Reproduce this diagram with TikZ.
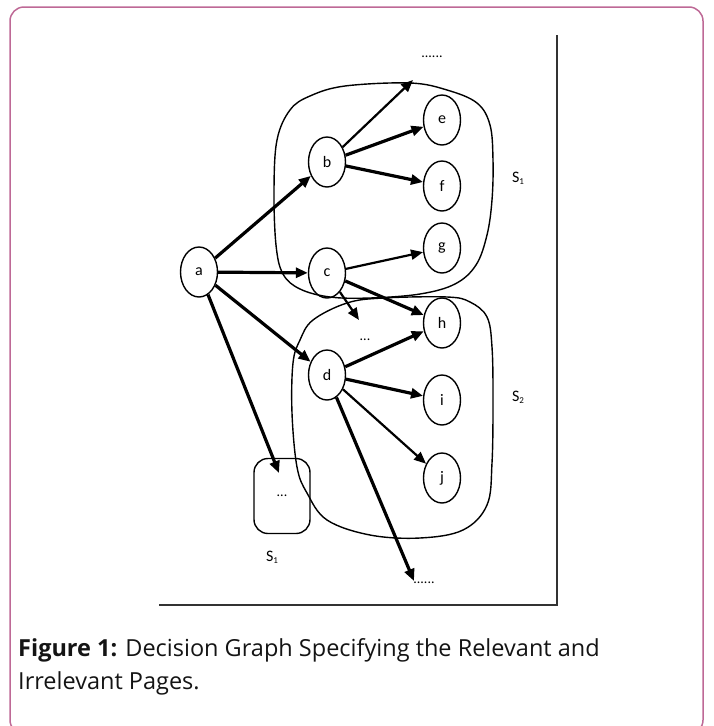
\documentclass[tikz,border=0pt]{standalone}
\usepackage{fontspec}
\setmainfont{Open Sans}
\newfontfamily\lbl{Carlito}
\usetikzlibrary{shapes.geometric,arrows.meta}
\definecolor{framec}{RGB}{190,105,150}
\definecolor{capc}{RGB}{20,20,20}
\begin{document}
\begin{tikzpicture}[x=1pt,y=-1pt,
  vert/.style={draw,ellipse,line width=1.4pt,minimum width=37pt,minimum height=50pt,inner sep=0pt,font=\lbl\fontsize{16}{16}\selectfont},
  thk/.style={line width=3.2pt,-{Triangle[length=12pt,width=10pt]}},
  med/.style={line width=2.2pt,-{Triangle[length=12pt,width=10pt]}},
  blob/.style={line width=1.4pt},
  lab/.style={font=\lbl\fontsize{16}{16}\selectfont,inner sep=0pt},
  dots/.style={font=\lbl\fontsize{14}{14}\selectfont,inner sep=1pt}]
\useasboundingbox (0,0) rectangle (713,726);
% outer frame
\draw[framec,line width=1.5pt,rounded corners=14pt] (10,7) rectangle (703,734);
% axes lines
\draw[line width=2pt,black!80] (557,35) -- (557,605) -- (159,605);
% blobs
\draw[blob] plot[smooth cycle,tension=0.6] coordinates {
  (410,83) (447,90) (477,103) (490,125) (493,160) (492,200) (487,235)
  (476,265) (455,284) (420,294) (370,298) (330,297) (300,289) (283,274)
  (276,245) (274,190) (277,140) (290,110) (310,96) (345,86)};
\draw[blob] plot[smooth cycle,tension=0.6] coordinates {
  (383,298) (447,297) (470,302) (487,317) (492,347) (493,400) (492,463)
  (487,505) (463,530) (420,538) (370,535) (327,520) (307,493) (297,467)
  (292,413) (293,363) (300,340) (313,320) (347,303)};
% nodes
\node[vert] (a) at (199,272) {a};
\node[vert] (b) at (327,162) {b};
\node[vert] (c) at (327,273) {c};
\node[vert] (d) at (327,375) {d};
\node[vert] (e) at (442,120) {e};
\node[vert] (f) at (442,186) {f};
\node[vert] (g) at (442,248) {g};
\node[vert] (h) at (442,323) {h};
\node[vert] (i) at (442,400) {i};
\node[vert] (j) at (442,478) {j};
\node[draw,line width=1.4pt,rounded corners=14pt,minimum width=56pt,minimum height=75pt,inner sep=0pt,dots] (box) at (282,496) {...};
\node[dots] (topdots) at (432,57) {......};
\node[dots] (middots) at (365,340) {...};
\node[dots] (botdots) at (424,583) {......};
% labels
\node[lab] (s1) at (518,178) {S\raisebox{-2pt}{\fontsize{9}{9}\selectfont 1}};
\node[lab] (s2) at (518,397) {S\raisebox{-2pt}{\fontsize{9}{9}\selectfont 2}};
\node[lab] (s3) at (272,557) {S\raisebox{-2pt}{\fontsize{9}{9}\selectfont 1}};
% connector end points
\coordinate (t1) at (413,80);
\coordinate (m1) at (359,320);
\coordinate (b1) at (414,581);
\coordinate (x1) at (279,473);
% arrows
\draw[thk] (a) -- (b);
\draw[thk] (a) -- (c);
\draw[thk] (a) -- (d);
\draw[thk] (a) -- (x1);
\draw[med] (b) -- (t1);
\draw[thk] (b) -- (e);
\draw[thk] (b) -- (f);
\draw[med] (c) -- (g);
\draw[thk] (c) -- (h);
\draw[med] (c) -- (m1);
\draw[thk] (d) -- (h);
\draw[thk] (d) -- (i);
\draw[med] (d) -- (j);
\draw[thk] (d) -- (b1);
% caption
\node[anchor=base west,inner sep=0pt,text=capc,font=\fontsize{23.5}{33}\selectfont] (cap1) at (18,656) {\textbf{Figure 1:} Decision Graph Specifying the Relevant and};
\node[anchor=base west,inner sep=0pt,text=capc,font=\fontsize{23.5}{33}\selectfont] (cap2) at (18,689) {Irrelevant Pages.};
\end{tikzpicture}
\end{document}
